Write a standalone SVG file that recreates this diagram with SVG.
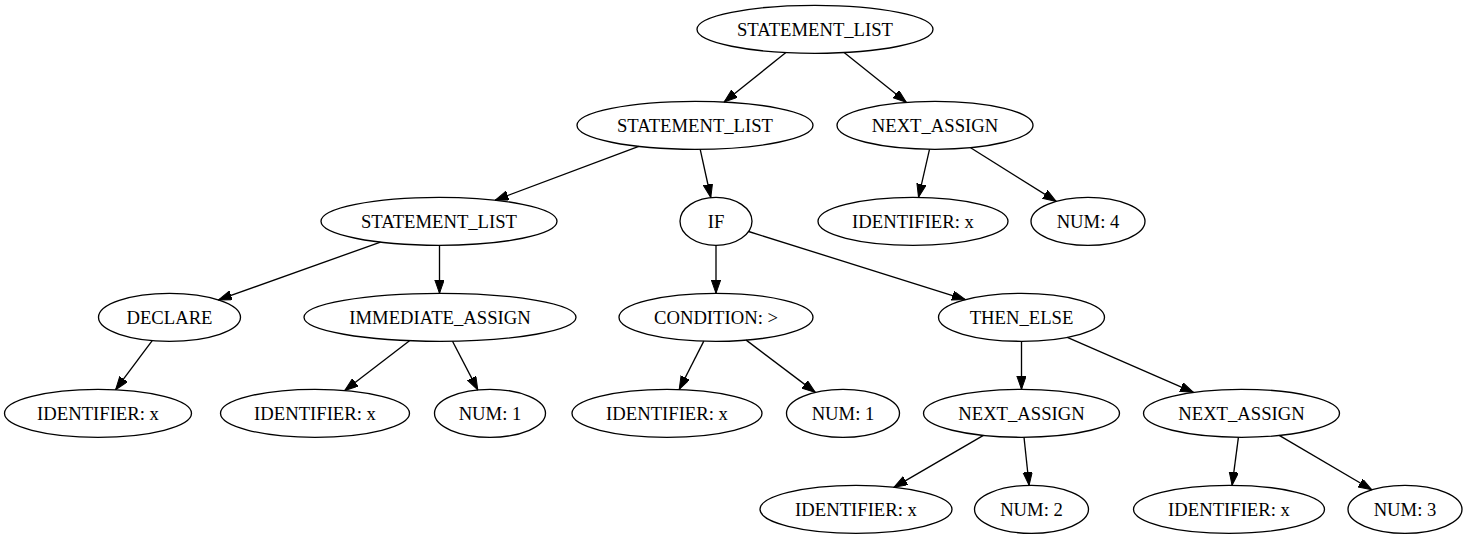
<svg xmlns="http://www.w3.org/2000/svg" width="1468" height="539" viewBox="0 0 1468 539">
<style>
.n ellipse{fill:none;stroke:#000;stroke-width:1.33}
.n text{font-family:"Liberation Serif","Times New Roman",serif;font-size:18.67px;text-anchor:middle;fill:#000}
#edges line{stroke:#000;stroke-width:1.33;marker-end:url(#ah)}
</style>
<defs>
<marker id="ah" markerUnits="userSpaceOnUse" markerWidth="14" markerHeight="10" refX="13.3" refY="4.67" orient="auto" viewBox="0 0 14 10">
<path d="M0,0 L13.3,4.67 L0,9.33 z" fill="#000" stroke="#000" stroke-width="1"/>
</marker>
</defs>
<rect width="1468" height="539" fill="#fff"/>
<g id="edges">
<line x1="785.9" y1="52.6" x2="724.1" y2="102"/>
<line x1="844.1" y1="52.6" x2="906.3" y2="102.3"/>
<line x1="638.8" y1="146.4" x2="495.2" y2="200.2"/>
<line x1="700.2" y1="149.3" x2="710.8" y2="197.5"/>
<line x1="929.5" y1="149.3" x2="918.5" y2="197.3"/>
<line x1="970.6" y1="147.7" x2="1056.2" y2="201.4"/>
<line x1="380.5" y1="242.1" x2="218.4" y2="299.9"/>
<line x1="439.5" y1="245.3" x2="439.5" y2="293.3"/>
<line x1="716" y1="245.3" x2="716" y2="293.3"/>
<line x1="748.6" y1="231.5" x2="965.3" y2="299.6"/>
<line x1="152.2" y1="340.6" x2="115.6" y2="389.7"/>
<line x1="409.5" y1="340.7" x2="344.7" y2="390.5"/>
<line x1="452.5" y1="341.2" x2="477.8" y2="389.9"/>
<line x1="703.8" y1="341.1" x2="679.2" y2="389.5"/>
<line x1="746.2" y1="340.1" x2="815.3" y2="392.4"/>
<line x1="1021.5" y1="341.3" x2="1021.5" y2="389.3"/>
<line x1="1067.3" y1="337.3" x2="1193.5" y2="392.4"/>
<line x1="983.4" y1="435.4" x2="894" y2="487.3"/>
<line x1="1024" y1="437.3" x2="1029.1" y2="485.3"/>
<line x1="1238.4" y1="437.3" x2="1232.1" y2="485.3"/>
<line x1="1279.2" y1="435.4" x2="1371.8" y2="489.8"/>
</g>
<g id="n_root" class="n"><ellipse cx="815" cy="29.3" rx="118" ry="24"/><text x="815" y="35.5">STATEMENT_LIST</text></g>
<g id="n_sl2" class="n"><ellipse cx="695" cy="125.3" rx="118" ry="24"/><text x="695" y="131.5">STATEMENT_LIST</text></g>
<g id="n_na1" class="n"><ellipse cx="935" cy="125.3" rx="98" ry="24"/><text x="935" y="131.5">NEXT_ASSIGN</text></g>
<g id="n_sl3" class="n"><ellipse cx="439" cy="221.3" rx="118" ry="24"/><text x="439" y="227.5">STATEMENT_LIST</text></g>
<g id="n_if" class="n"><ellipse cx="716" cy="221.3" rx="36" ry="24"/><text x="716" y="227.5">IF</text></g>
<g id="n_id1" class="n"><ellipse cx="913" cy="221.3" rx="95" ry="24"/><text x="913" y="227.5">IDENTIFIER: x</text></g>
<g id="n_num4" class="n"><ellipse cx="1088" cy="221.3" rx="57" ry="24"/><text x="1088" y="227.5">NUM: 4</text></g>
<g id="n_declare" class="n"><ellipse cx="169.5" cy="317.3" rx="71" ry="24"/><text x="169.5" y="323.5">DECLARE</text></g>
<g id="n_imm" class="n"><ellipse cx="440" cy="317.3" rx="136" ry="24"/><text x="440" y="323.5">IMMEDIATE_ASSIGN</text></g>
<g id="n_cond" class="n"><ellipse cx="716" cy="317.3" rx="97" ry="24"/><text x="716" y="323.5">CONDITION: &gt;</text></g>
<g id="n_then" class="n"><ellipse cx="1021.5" cy="317.3" rx="83" ry="24"/><text x="1021.5" y="323.5">THEN_ELSE</text></g>
<g id="n_id2" class="n"><ellipse cx="98" cy="413.3" rx="93.5" ry="24"/><text x="98" y="419.5">IDENTIFIER: x</text></g>
<g id="n_id3" class="n"><ellipse cx="315" cy="413.3" rx="94.5" ry="24"/><text x="315" y="419.5">IDENTIFIER: x</text></g>
<g id="n_num1a" class="n"><ellipse cx="490" cy="413.3" rx="55.5" ry="24"/><text x="490" y="419.5">NUM: 1</text></g>
<g id="n_id4" class="n"><ellipse cx="667" cy="413.3" rx="95" ry="24"/><text x="667" y="419.5">IDENTIFIER: x</text></g>
<g id="n_num1b" class="n"><ellipse cx="843" cy="413.3" rx="56.5" ry="24"/><text x="843" y="419.5">NUM: 1</text></g>
<g id="n_na2" class="n"><ellipse cx="1021.5" cy="413.3" rx="98" ry="24"/><text x="1021.5" y="419.5">NEXT_ASSIGN</text></g>
<g id="n_na3" class="n"><ellipse cx="1241.5" cy="413.3" rx="98" ry="24"/><text x="1241.5" y="419.5">NEXT_ASSIGN</text></g>
<g id="n_id5" class="n"><ellipse cx="856" cy="509.3" rx="96" ry="24"/><text x="856" y="515.5">IDENTIFIER: x</text></g>
<g id="n_num2" class="n"><ellipse cx="1031.5" cy="509.3" rx="57" ry="24"/><text x="1031.5" y="515.5">NUM: 2</text></g>
<g id="n_id6" class="n"><ellipse cx="1229" cy="509.3" rx="95.5" ry="24"/><text x="1229" y="515.5">IDENTIFIER: x</text></g>
<g id="n_num3" class="n"><ellipse cx="1405" cy="509.3" rx="57" ry="24"/><text x="1405" y="515.5">NUM: 3</text></g>
</svg>
